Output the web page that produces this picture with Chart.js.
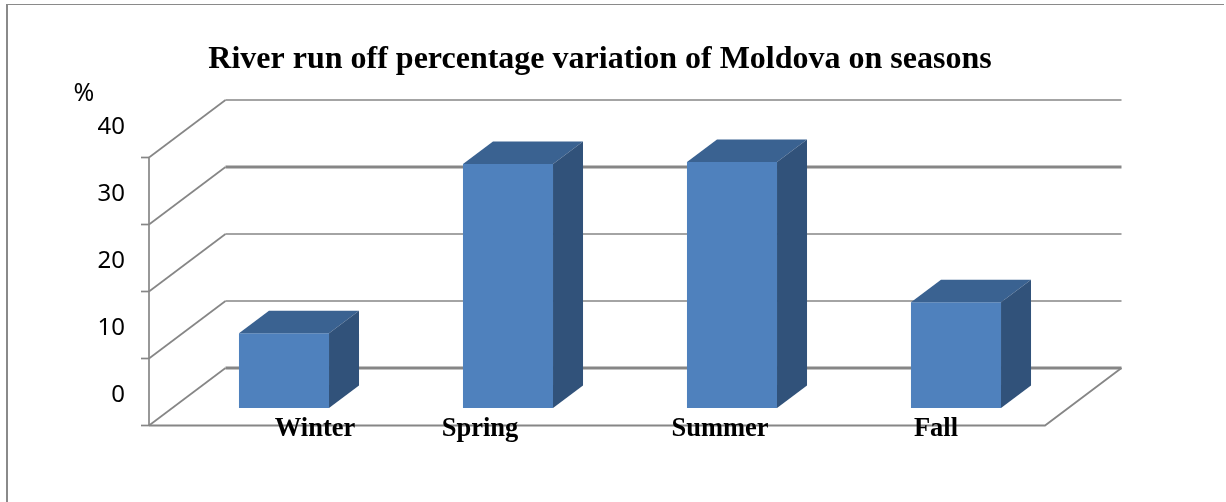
<!DOCTYPE html>
<html>
<head>
<meta charset="utf-8">
<title>River run off</title>
<script src="https://cdn.jsdelivr.net/npm/chart.js@4/dist/chart.umd.min.js"></script>
<style>
  html, body { margin: 0; padding: 0; background: #fff; overflow: hidden; }
  #frame { position: absolute; left: 6px; top: 4px; width: 1216px; height: 498px;
           border-left: 2px solid #8a8a8a; border-top: 1px solid #8a8a8a; }
  #runoff { position: absolute; left: 0; top: 0; }
</style>
</head>
<body>
<div id="frame"></div>
<canvas id="runoff" width="1226" height="502"></canvas>
<script>
// Seasonal river run off of the Moldova, in percent of the yearly total
const seasons = ['Winter', 'Spring', 'Summer', 'Fall'];
const runoffPercent = [11.15, 36.4, 36.7, 15.8];
const chartTitle = 'River run off percentage variation of Moldova on seasons';
const unitLabel = '%';

// Box-drawing settings for the 3D look, all relative to the plane of the bars
const barDepth = { dx: 30, dy: -22.5 };
const wallDepth = { dx: 53.5, dy: -40 };
const floorFront = { dx: -23, dy: 17.5 };
const seasonLabelShift = [31, -28, -12, -20];
const gridWeight = { 0: 2.8, 10: 1.7, 20: 1.7, 30: 2.8, 40: 1.7 };
const gridColor = '#868686';
const faceColors = { front: '#4F81BD', top: '#3A6291', side: '#31527A' };

function stroke(ctx, points, width) {
  ctx.beginPath();
  points.forEach(([x, y], i) => (i ? ctx.lineTo(x, y) : ctx.moveTo(x, y)));
  ctx.lineWidth = width;
  ctx.strokeStyle = gridColor;
  ctx.stroke();
}

function fillFace(ctx, points, color) {
  ctx.beginPath();
  points.forEach(([x, y], i) => (i ? ctx.lineTo(x, y) : ctx.moveTo(x, y)));
  ctx.closePath();
  ctx.fillStyle = color;
  ctx.fill();
}

// Back wall, side wall and floor outline, placed from the value axis ticks
const wallsPlugin = {
  id: 'walls',
  beforeDatasetsDraw(chart) {
    const { ctx, chartArea: area, scales: { y } } = chart;
    const frontX = area.left + floorFront.dx;
    const backX = area.left + wallDepth.dx;
    const backRight = area.right + wallDepth.dx;
    const frontRight = area.right + floorFront.dx;
    ctx.save();
    y.ticks.forEach(({ value }) => {
      const py = y.getPixelForValue(value);
      const backY = py + wallDepth.dy;
      const frontY = py + floorFront.dy;
      stroke(ctx, [[backX, backY], [backRight, backY]], gridWeight[value]);
      stroke(ctx, [[frontX, frontY], [backX, backY]], 1.7);
      stroke(ctx, [[frontX - 8, frontY], [frontX, frontY]], 1.7);
    });
    const base = y.getPixelForValue(0);
    const top = y.getPixelForValue(y.max);
    stroke(ctx, [[frontX, top + floorFront.dy], [frontX, base + floorFront.dy]], 1.7);
    stroke(ctx, [[frontX, base + floorFront.dy], [frontRight, base + floorFront.dy],
                 [backRight, base + wallDepth.dy]], 1.8);
    ctx.restore();
  }
};

// Top and side faces of each bar, and the labels sitting over the floor edge
const boxPlugin = {
  id: 'boxes',
  afterDatasetsDraw(chart) {
    const { ctx, scales: { x, y } } = chart;
    const { dx, dy } = barDepth;
    ctx.save();
    chart.getDatasetMeta(0).data.forEach((bar) => {
      const half = bar.width / 2;
      const l = bar.x - half;
      const r = bar.x + half;
      fillFace(ctx, [[l, bar.y], [r, bar.y], [r + dx, bar.y + dy], [l + dx, bar.y + dy]], faceColors.top);
      fillFace(ctx, [[r, bar.y], [r + dx, bar.y + dy], [r + dx, bar.base + dy], [r, bar.base]], faceColors.side);
    });
    ctx.fillStyle = '#000';
    ctx.textAlign = 'center';
    ctx.textBaseline = 'middle';
    ctx.font = 'bold 26.5px "Liberation Serif"';
    const labelY = y.getPixelForValue(0) + floorFront.dy + 4;
    seasons.forEach((name, i) => {
      ctx.fillText(name, x.getPixelForValue(i) + seasonLabelShift[i], labelY);
    });
    ctx.font = '25px "Noto Sans"';
    ctx.fillText(unitLabel, 84, y.getPixelForValue(y.max) - 46);
    ctx.restore();
  }
};

new Chart(document.getElementById('runoff'), {
  type: 'bar',
  data: {
    labels: seasons,
    datasets: [{
      data: runoffPercent,
      backgroundColor: faceColors.front,
      borderWidth: 0,
      barPercentage: 0.402,
      categoryPercentage: 1,
      yAxisID: 'y'
    }]
  },
  plugins: [wallsPlugin, boxPlugin],
  options: {
    responsive: false,
    animation: false,
    layout: { padding: { left: 90, right: 116, top: 0, bottom: 94 } },
    plugins: {
      legend: { display: false },
      tooltip: { enabled: false },
      title: {
        display: true,
        text: chartTitle,
        color: '#000',
        font: { family: '"Liberation Serif"', size: 32, weight: 'bold', lineHeight: 1.2 },
        padding: { top: 41, bottom: 60.6 }
      }
    },
    scales: {
      x: {
        display: false,
        grid: { display: false }
      },
      y: {
        min: 0,
        max: 40,
        afterFit(scale) { scale.width = 82; },
        grid: { display: false, drawTicks: false },
        border: { display: false },
        ticks: {
          stepSize: 10,
          padding: 47,
          labelOffset: -13,
          color: '#000',
          font: { family: '"Noto Sans"', size: 24 }
        }
      },
      // Empty strip on the right that balances the title over the whole figure
      spacer: {
        type: 'linear',
        position: 'right',
        afterFit(scale) { scale.width = 42; },
        grid: { display: false, drawTicks: false },
        border: { display: false },
        ticks: { display: false }
      }
    }
  }
});
</script>
</body>
</html>
